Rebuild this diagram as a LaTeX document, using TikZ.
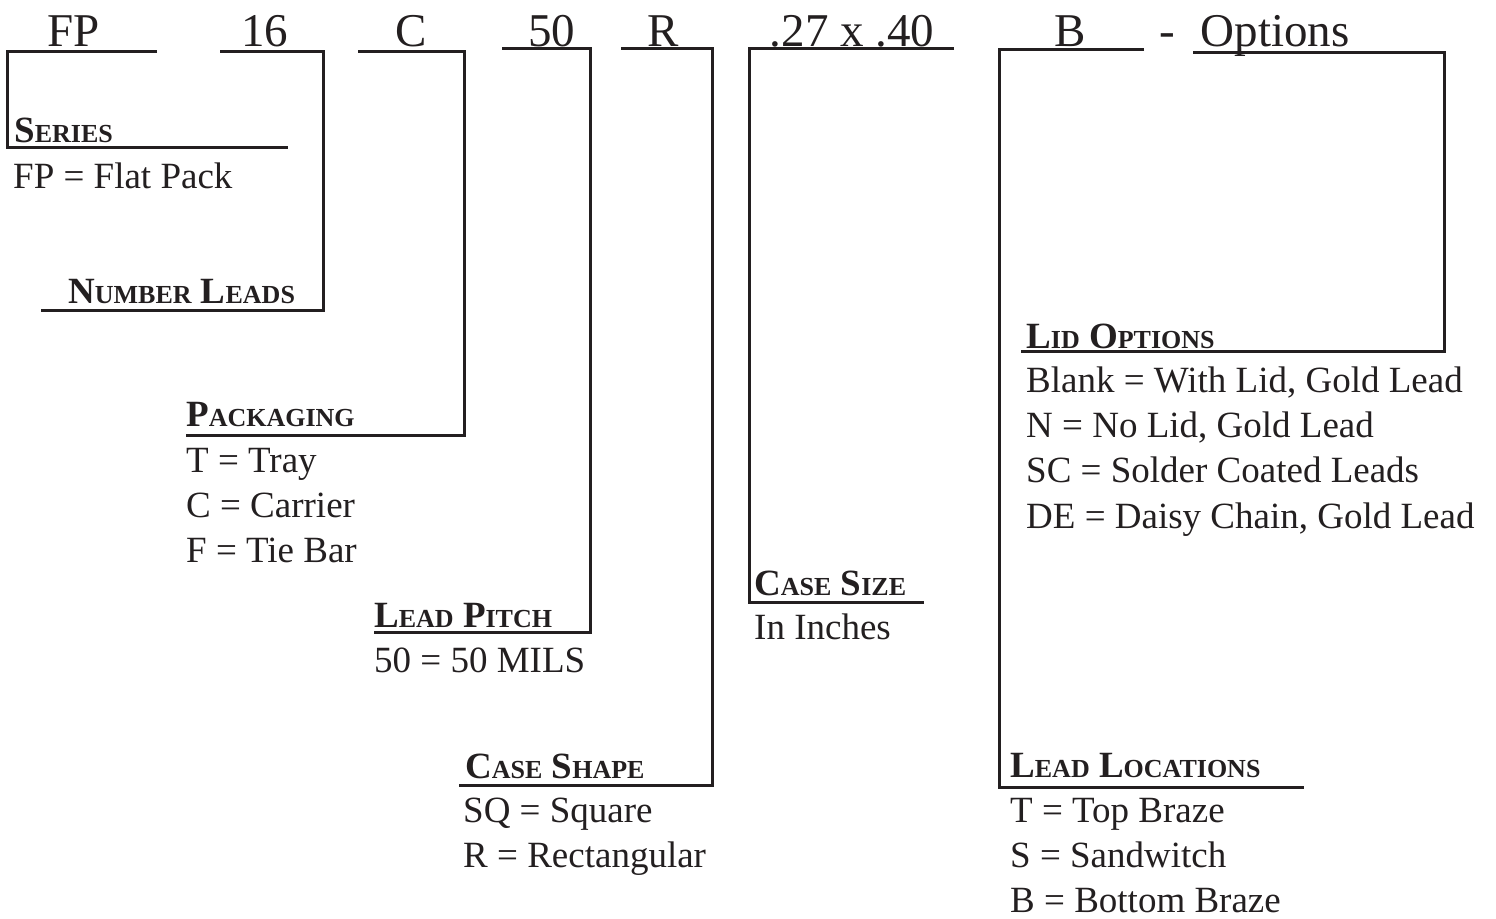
\documentclass[tikz,border=0pt]{standalone}
\usepackage{fontspec}
\setmainfont{Liberation Serif}
\usepackage{tikz}
\usetikzlibrary{positioning}

\definecolor{ink}{HTML}{231F20}
\newcommand\smcap[2]{#1{\fontsize{26}{26}\selectfont #2}}

\begin{document}
\begin{tikzpicture}[x=1pt,y=-1pt,
    code/.style={font=\fontsize{47}{47}\selectfont,inner sep=0pt,anchor=base,text=ink},
    head/.style={font=\bfseries\fontsize{37}{37}\selectfont,inner sep=0pt,anchor=base west,text=ink},
    item/.style={font=\fontsize{37}{37}\selectfont,inner sep=0pt,text height=27pt,text depth=9pt,text=ink},
    brk/.style={draw=ink,line width=3pt,line join=miter},
    node distance=9pt]
    \useasboundingbox (0,0) rectangle (1496,918);

    % part number
    \node[code] (fp) at (74,46) {FP};
    \node[code] (pins) at (264.5,46) {16};
    \node[code] (pkg) at (411,46) {C};
    \node[code] (pitch) at (551.5,46) {50};
    \node[code] (shape) at (663,46) {R};
    \node[code] (size) at (852,46) {.27 x .40};
    \node[code] (leads) at (1070.5,46) {B};
    \node[code] (dash) at (1167,46) {-};
    \node[code] (opts) at (1275,46) {Options};

    % headings
    \node[head] (ser) at (14,142) {\smcap{S}{ERIES}};
    \node[head] (num) at (68,303) {\smcap{N}{UMBER} \smcap{L}{EADS}};
    \node[head] (pak) at (186,426) {\smcap{P}{ACKAGING}};
    \node[head] (lpi) at (374,627) {\smcap{L}{EAD} \smcap{P}{ITCH}};
    \node[head] (csh) at (465,778) {\smcap{C}{ASE} \smcap{S}{HAPE}};
    \node[head] (csz) at (754,595) {\smcap{C}{ASE} \smcap{S}{IZE}};
    \node[head] (lid) at (1026,348) {\smcap{L}{ID} \smcap{O}{PTIONS}};
    \node[head] (lloc) at (1010,777) {\smcap{L}{EAD} \smcap{L}{OCATIONS}};

    % choices
    \node[item,anchor=base west] (ser1) at (13,188) {FP = Flat Pack};

    \node[item,anchor=base west] (pak1) at (186,472) {T = Tray};
    \node[item,below=of pak1.south west,anchor=north west] (pak2) {C = Carrier};
    \node[item,below=of pak2.south west,anchor=north west] (pak3) {F = Tie Bar};

    \node[item,anchor=base west] (lpi1) at (374,672) {50 = 50 MILS};

    \node[item,anchor=base west] (csh1) at (463,822) {SQ = Square};
    \node[item,below=of csh1.south west,anchor=north west] (csh2) {R = Rectangular};

    \node[item,anchor=base west] (csz1) at (754,639) {In Inches};

    \node[item,anchor=base west] (lid1) at (1026,392) {Blank = With Lid, Gold Lead};
    \node[item,below=of lid1.south west,anchor=north west] (lid2) {N = No Lid, Gold Lead};
    \node[item,below=of lid2.south west,anchor=north west] (lid3) {SC = Solder Coated Leads};
    \node[item,below=of lid3.south west,anchor=north west] (lid4) {DE = Daisy Chain, Gold Lead};

    \node[item,anchor=base west] (lloc1) at (1010,822) {T = Top Braze};
    \node[item,below=of lloc1.south west,anchor=north west] (lloc2) {S = Sandwitch};
    \node[item,below=of lloc2.south west,anchor=north west] (lloc3) {B = Bottom Braze};

    % bracket ends
    \coordinate (fp-a) at (157,51);   \coordinate (fp-b) at (7,51);     \coordinate (fp-c) at (288,147);
    \coordinate (pins-a) at (220,51); \coordinate (pins-b) at (323,51); \coordinate (pins-c) at (41,310);
    \coordinate (pkg-a) at (358,51);  \coordinate (pkg-b) at (464,51);  \coordinate (pkg-c) at (186,435);
    \coordinate (pitch-a) at (502,48); \coordinate (pitch-b) at (590,48); \coordinate (pitch-c) at (374,632);
    \coordinate (shape-a) at (621,48); \coordinate (shape-b) at (712,48); \coordinate (shape-c) at (459,785);
    \coordinate (size-a) at (954,48); \coordinate (size-b) at (749,48); \coordinate (size-c) at (924,602);
    \coordinate (leads-a) at (1144,49); \coordinate (leads-b) at (999,49); \coordinate (leads-c) at (1304,787);
    \coordinate (opts-a) at (1193,52); \coordinate (opts-b) at (1444,52); \coordinate (opts-c) at (1021,351);

    \draw[brk] (fp-a) -- (fp-b) |- (fp-c);
    \draw[brk] (pins-a) -- (pins-b) |- (pins-c);
    \draw[brk] (pkg-a) -- (pkg-b) |- (pkg-c);
    \draw[brk] (pitch-a) -- (pitch-b) |- (pitch-c);
    \draw[brk] (shape-a) -- (shape-b) |- (shape-c);
    \draw[brk] (size-a) -- (size-b) |- (size-c);
    \draw[brk] (leads-a) -- (leads-b) |- (leads-c);
    \draw[brk] (opts-a) -- (opts-b) |- (opts-c);
\end{tikzpicture}
\end{document}
